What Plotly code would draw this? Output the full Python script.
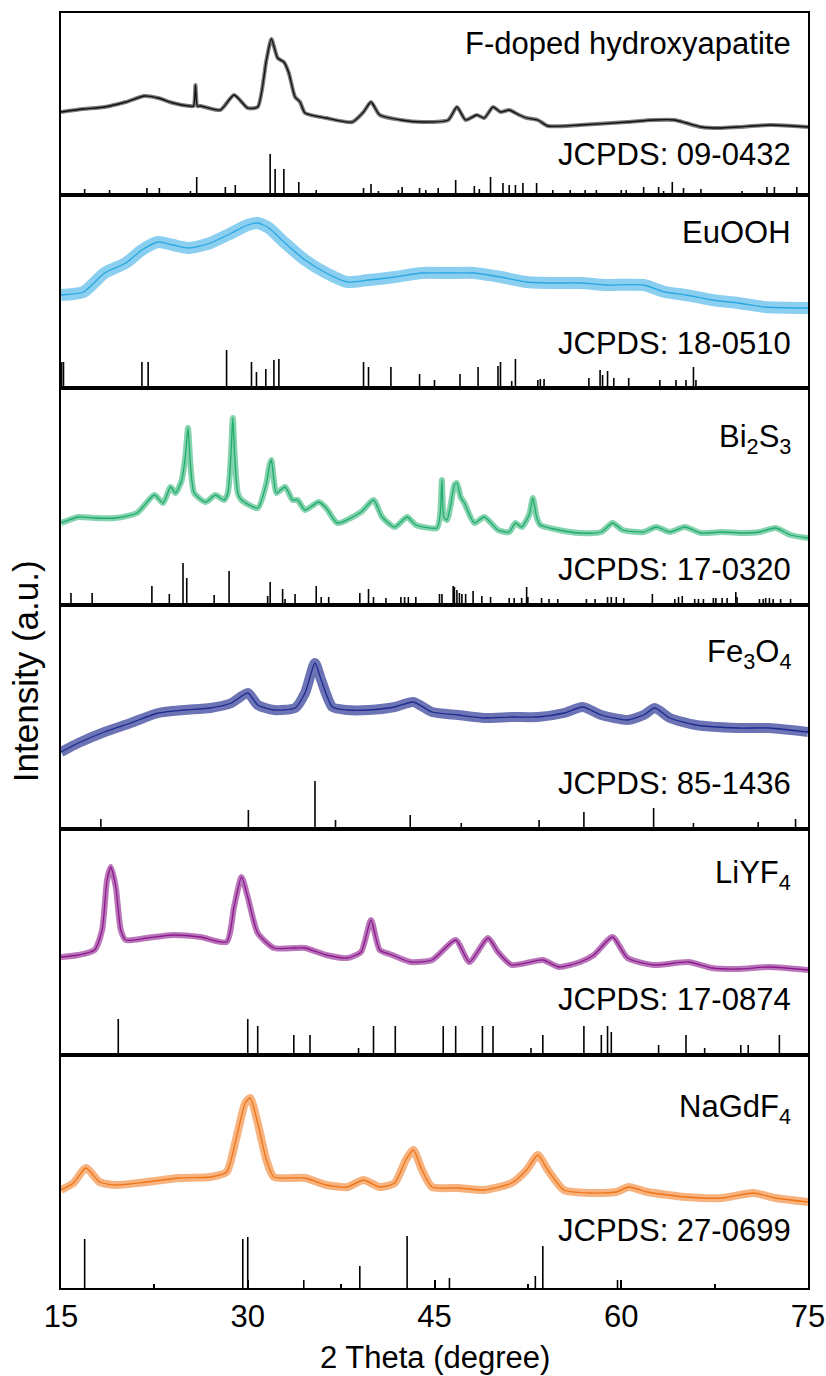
import plotly.graph_objects as go
from plotly.subplots import make_subplots

# ---------------- data (2 theta in degree, intensity in a.u.) ----------------
names = ["F-doped hydroxyapatite", "EuOOH", "Bi<sub>2</sub>S<sub>3</sub>",
         "Fe<sub>3</sub>O<sub>4</sub>", "LiYF<sub>4</sub>", "NaGdF<sub>4</sub>"]
cards = ["JCPDS: 09-0432", "JCPDS: 18-0510", "JCPDS: 17-0320",
         "JCPDS: 85-1436", "JCPDS: 17-0874", "JCPDS: 27-0699"]
colors = ["#111111", "#2aa7e1", "#20ad6b", "#1f2a8e", "#8c1a8c", "#f07415"]

hap_x = [15.0, 16.8, 18.5, 20.2, 21.7, 22.8, 24.0, 25.3, 25.65, 25.8, 25.95, 26.2, 27.8, 28.9,
         30.0, 30.8, 31.5, 31.9, 32.4, 32.9, 33.3, 33.8, 34.2, 34.6, 36.3, 38.4, 39.3, 39.9,
         40.6, 42.3, 44.0, 46.1, 46.8, 47.5, 48.4, 49.0, 49.7, 50.3, 51.0, 51.8, 52.4, 53.3,
         54.1, 56.7, 60.5, 62.6, 64.3, 65.2, 66.4, 67.9, 69.4, 72.0, 75.0]
hap_y = [83, 86, 88, 93, 99, 97, 92, 89, 89, 110, 89, 89, 85, 100,
         87, 88, 135, 156, 137, 133, 122, 98, 93, 82, 77, 73, 83, 93,
         80, 75, 73, 75, 88, 75, 80, 77, 88, 83, 85, 80, 77, 75,
         69, 70, 73, 75, 75, 72, 68, 67, 68, 70, 68]

euo_x = [15.0, 16.8, 18.5, 20.2, 21.5, 22.8, 24.0, 25.3, 27.0, 28.7, 30.0, 30.8, 31.7, 32.9,
         34.6, 36.3, 38.0, 39.7, 41.8, 44.0, 46.1, 48.2, 50.3, 52.4, 54.6, 56.7, 58.8, 61.8,
         63.5, 65.2, 67.3, 69.4, 71.5, 75.0]
euo_y = [93, 96, 115, 125, 138, 146, 143, 140, 145, 155, 163, 165, 160, 146,
         128, 115, 106, 108, 111, 115, 115, 115, 111, 106, 105, 105, 103, 103,
         96, 93, 88, 85, 81, 80]

bis_x = [15.0, 16.4, 17.7, 19.4, 21.1, 22.5, 23.2, 23.8, 24.2, 24.7, 25.0, 25.2, 25.4, 25.7,
         26.6, 27.4, 28.1, 28.4, 28.65, 28.8, 28.95, 29.2, 29.5, 30.8, 31.5, 31.75, 31.9, 32.1,
         32.3, 33.0, 33.6, 34.0, 34.6, 35.7, 36.3, 37.2, 39.1, 40.1, 40.8, 41.8, 42.8, 43.5,
         45.2, 45.45, 45.6, 45.75, 46.0, 46.3, 46.6, 46.8, 47.1, 47.4, 48.2, 49.0, 50.1, 51.0,
         51.5, 52.0, 52.6, 52.9, 53.2, 53.5, 55.0, 56.7, 58.4, 59.3, 60.1, 61.8, 62.8, 63.9,
         65.1, 66.4, 68.1, 69.8, 71.1, 72.4, 73.6, 75.0]
bis_y = [82, 88, 87, 87, 92, 110, 102, 118, 112, 125, 150, 177, 140, 112,
         103, 110, 105, 112, 150, 187, 150, 112, 105, 97, 122, 140, 145, 125,
         112, 118, 105, 105, 95, 103, 97, 82, 93, 105, 88, 78, 88, 80,
         77, 90, 125, 88, 85, 100, 120, 122, 108, 102, 82, 88, 75, 73,
         82, 78, 90, 107, 88, 80, 75, 72, 73, 82, 75, 73, 78, 73,
         78, 72, 73, 72, 73, 77, 70, 67]

fe_x = [15.0, 16.4, 18.5, 20.6, 22.8, 24.9, 27.0, 28.7, 30.0, 30.8, 32.1, 33.8, 34.6, 35.4,
        35.9, 36.8, 38.0, 39.7, 41.8, 43.3, 44.8, 46.9, 49.0, 51.2, 53.3, 55.4, 56.9, 58.4,
        60.5, 61.8, 62.7, 63.9, 66.0, 69.4, 71.9, 75.0]
fe_y = [77, 86, 97, 106, 116, 119, 121, 126, 136, 124, 119, 121, 136, 166,
        149, 122, 119, 119, 122, 127, 117, 114, 111, 112, 112, 116, 122, 114,
        109, 114, 121, 111, 104, 101, 101, 97]

liy_x = [15.0, 16.4, 17.7, 18.3, 18.7, 19.0, 19.4, 19.8, 20.2, 21.9, 24.0, 26.2, 28.3, 28.9,
         29.5, 30.0, 30.8, 32.1, 33.8, 34.6, 36.3, 38.0, 39.1, 39.9, 40.6, 41.6, 43.1, 44.8,
         46.7, 47.8, 49.3, 50.1, 51.2, 53.7, 55.0, 56.7, 57.8, 59.3, 60.5, 62.6, 65.4, 67.3,
         69.4, 71.9, 75.0]
liy_y = [98, 100, 105, 125, 175, 188, 168, 125, 115, 117, 120, 118, 113, 148,
         178, 158, 122, 107, 107, 107, 100, 97, 103, 135, 105, 100, 93, 95,
         115, 93, 117, 103, 90, 95, 88, 93, 100, 118, 97, 90, 93, 87,
         86, 88, 85]

nag_x = [15.0, 16.0, 17.0, 18.1, 19.4, 21.9, 24.5, 27.0, 28.3, 29.1, 29.8, 30.2, 30.8, 31.5,
         32.1, 34.6, 36.3, 38.0, 39.3, 40.6, 41.8, 42.7, 43.3, 44.0, 44.8, 46.9, 49.0, 51.2,
         52.4, 53.3, 54.1, 55.4, 57.5, 59.6, 60.6, 62.1, 65.2, 68.1, 70.6, 72.4, 75.0]
nag_y = [98, 105, 120, 106, 103, 106, 110, 111, 116, 151, 185, 190, 165, 128,
         111, 110, 103, 101, 108, 101, 105, 128, 138, 118, 101, 100, 98, 105,
         118, 133, 118, 98, 95, 96, 101, 96, 91, 90, 95, 90, 86]

# reference patterns (line position, line height)
hap_ref_x = [16.9, 18.9, 21.9, 22.9, 25.4, 25.9, 28.2, 29.0, 31.8, 32.2, 32.9, 34.1, 35.5, 39.3,
             39.9, 40.5, 42.1, 42.4, 43.8, 44.3, 45.3, 46.7, 48.2, 48.6, 49.5, 50.5, 51.0, 51.5,
             52.1, 53.2, 54.5, 55.9, 57.1, 58.0, 60.0, 60.4, 61.8, 63.0, 63.4, 64.1, 65.0, 66.4,
             69.7, 71.7, 72.3, 74.1]
hap_ref_h = [6, 5, 7, 7, 4, 18, 8, 10, 41, 26, 26, 13, 5, 7,
             11, 4, 5, 8, 7, 5, 7, 15, 9, 6, 18, 12, 10, 10,
             12, 12, 5, 5, 5, 5, 5, 5, 8, 8, 4, 13, 7, 6,
             4, 8, 8, 8]

euo_ref_x = [15.05, 15.2, 21.5, 22.0, 28.3, 30.3, 30.7, 31.45, 32.1, 32.5, 39.3, 39.7, 41.5, 43.8,
             45.0, 47.05, 48.5, 50.1, 50.3, 51.2, 51.5, 53.3, 53.5, 53.8, 57.4, 58.3, 58.5, 58.9,
             59.4, 60.6, 63.1, 64.4, 65.2, 65.8, 66.0]
euo_ref_h = [26, 26, 26, 26, 38, 26, 16, 19, 28, 29, 26, 21, 21, 14,
             8, 14, 21, 22, 26, 7, 29, 8, 9, 9, 10, 18, 13, 17,
             10, 10, 8, 8, 8, 21, 8]

bis_ref_x = [15.8, 17.5, 22.3, 23.7, 24.8, 25.1, 27.3, 28.5, 31.6, 31.8, 32.8, 33.0, 33.8, 35.5,
             35.9, 36.5, 39.0, 39.7, 40.1, 41.1, 42.3, 42.6, 42.9, 43.5, 45.4, 45.6, 46.5, 46.6,
             46.8, 47.0, 47.2, 47.5, 48.1, 48.8, 49.5, 51.0, 51.4, 52.0, 52.4, 52.5, 53.6, 54.2,
             54.9, 57.2, 57.9, 58.9, 59.2, 59.6, 60.2, 62.5, 64.3, 64.6, 64.9, 65.9, 66.2, 66.6,
             67.4, 67.6, 68.1, 68.5, 69.2, 69.3, 71.1, 71.4, 71.6, 71.9, 72.2, 72.8, 73.6]
bis_ref_h = [12, 12, 19, 11, 42, 27, 10, 34, 9, 23, 16, 6, 11, 19,
             8, 8, 12, 16, 8, 7, 8, 8, 8, 8, 11, 11, 19, 18,
             15, 12, 11, 11, 14, 9, 8, 7, 7, 7, 18, 8, 7, 6,
             6, 6, 6, 8, 8, 8, 7, 11, 6, 8, 9, 6, 6, 6,
             7, 7, 7, 7, 13, 8, 6, 6, 7, 7, 6, 6, 6]

fe_ref_x = [18.2, 30.05, 35.4, 37.05, 43.05, 47.15, 53.4, 57.0, 62.6, 65.8, 71.0, 74.0]
fe_ref_h = [10, 19, 48, 9, 14, 6, 9, 17, 21, 6, 7, 10]

liy_ref_x = [19.6, 30.0, 30.8, 33.7, 35.0, 38.9, 40.1, 41.85, 45.7, 46.7, 48.85, 49.7, 52.75,
             53.7, 57.0, 58.4, 58.9, 59.2, 63.0, 65.2, 66.7, 69.6, 70.2, 72.7]
liy_ref_h = [36, 36, 29, 20, 20, 7, 29, 29, 29, 29, 29, 29, 7,
             20, 29, 20, 29, 23, 10, 20, 7, 10, 10, 20]

nag_ref_x = [16.9, 29.6, 30.0, 34.5, 39.0, 42.8, 46.2, 53.1, 53.7, 59.7]
nag_ref_h = [49, 49, 51, 8, 22, 52, 10, 12, 42, 8]

x_ticks = [15, 30, 45, 60, 75]
x_minor = [22.5, 37.5, 52.5, 67.5]

# ---------------- layout parameters ----------------
panel_h = [182, 193, 217, 224, 226, 233]       # relative panel heights
label_y = [152, 156, 166, 175, 180, 179]       # sample label height in panel units
card_y = [41, 45, 36, 46, 56, 58]              # JCPDS label height in panel units
band_w = [4, 12, 6, 10, 6, 8]
band_a = [0.55, 0.55, 0.55, 0.65, 0.6, 0.55]

curves = [(hap_x, hap_y), (euo_x, euo_y), (bis_x, bis_y),
          (fe_x, fe_y), (liy_x, liy_y), (nag_x, nag_y)]
refs = [(hap_ref_x, hap_ref_h), (euo_ref_x, euo_ref_h), (bis_ref_x, bis_ref_h),
        (fe_ref_x, fe_ref_h), (liy_ref_x, liy_ref_h), (nag_ref_x, nag_ref_h)]

FONT = "Liberation Sans, Arial, Helvetica, sans-serif"

fig = make_subplots(rows=6, cols=1, shared_xaxes=True, vertical_spacing=0,
                    row_heights=panel_h)


def rgba(hexc, a):
    h = hexc.lstrip("#")
    return "rgba(%d,%d,%d,%.2f)" % (int(h[0:2], 16), int(h[2:4], 16), int(h[4:6], 16), a)


for i in range(6):
    r = i + 1
    cx, cy = curves[i]
    fig.add_trace(go.Scatter(x=cx, y=cy, mode="lines",
                             line=dict(color=rgba(colors[i], band_a[i]), width=band_w[i],
                                       shape="spline", smoothing=0.6),
                             hoverinfo="skip", showlegend=False), row=r, col=1)
    fig.add_trace(go.Scatter(x=cx, y=cy, mode="lines",
                             line=dict(color=colors[i], width=1.3,
                                       shape="spline", smoothing=0.6),
                             showlegend=False), row=r, col=1)
    rx, rh = refs[i]
    sx, sy = [], []
    for p, h in zip(rx, rh):
        sx += [p, p, None]
        sy += [0, h, None]
    fig.add_trace(go.Scatter(x=sx, y=sy, mode="lines",
                             line=dict(color="black", width=1.6),
                             showlegend=False), row=r, col=1)

    yname = "y" if r == 1 else "y%d" % r
    xname = "x" if r == 1 else "x%d" % r
    fig.add_annotation(x=73.8, y=label_y[i], xref=xname, yref=yname,
                       text=names[i], showarrow=False,
                       xanchor="right", yanchor="middle",
                       font=dict(family=FONT, size=31, color="black"))
    fig.add_annotation(x=73.8, y=card_y[i], xref=xname, yref=yname,
                       text=cards[i], showarrow=False,
                       xanchor="right", yanchor="middle",
                       font=dict(family=FONT, size=31, color="black"))

    fig.update_yaxes(range=[0, panel_h[i]], showline=True, linecolor="black",
                     linewidth=2, mirror=True, showticklabels=False, ticks="",
                     showgrid=False, zeroline=False, automargin=False, row=r, col=1)
    xa = dict(range=[15, 75], showline=True, linecolor="black", linewidth=2,
              mirror=True, showgrid=False, zeroline=False, automargin=False)
    if r < 6:
        xa.update(showticklabels=False, ticks="")
    else:
        xa.update(tickvals=x_ticks, ticktext=[str(v) for v in x_ticks],
                  ticks="inside", ticklen=8, tickwidth=2, tickcolor="black",
                  ticklabelstandoff=0,
                  tickfont=dict(family=FONT, size=31, color="black"),
                  minor=dict(tickvals=x_minor, ticks="inside", ticklen=4,
                             tickwidth=1.5, tickcolor="black"))
    fig.update_xaxes(row=r, col=1, **xa)

fig.add_annotation(x=0.5, y=-0.0545, xref="paper", yref="paper",
                   text="2 Theta (degree)", showarrow=False,
                   xanchor="center", yanchor="middle",
                   font=dict(family=FONT, size=31, color="black"))
fig.add_annotation(x=-0.0465, y=0.484, xref="paper", yref="paper",
                   text="Intensity (a.u.)", showarrow=False, textangle=-90,
                   xanchor="center", yanchor="middle",
                   font=dict(family=FONT, size=35, color="black"))

fig.update_layout(width=826, height=1376, autosize=False,
                  margin=dict(l=61, r=18, t=13, b=88, autoexpand=False),
                  plot_bgcolor="white", paper_bgcolor="white",
                  showlegend=False)

fig.write_html("out.html", config={"responsive": False},
               post_script="document.body.style.margin='0';document.body.style.overflow='hidden';")
